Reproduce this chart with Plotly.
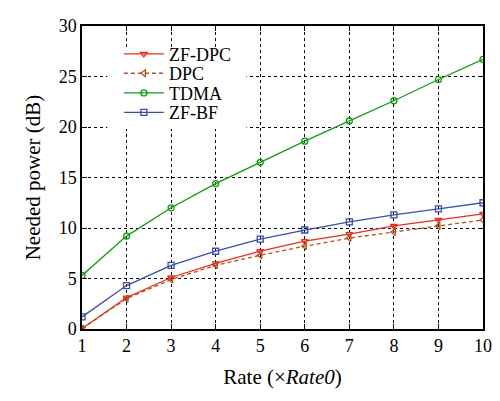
import plotly.graph_objects as go

rate = [1, 2, 3, 4, 5, 6, 7, 8, 9, 10]
zf_dpc = [0.05, 3.1, 5.1, 6.5, 7.7, 8.7, 9.4, 10.2, 10.8, 11.4]
dpc = [0.05, 3.0, 4.9, 6.3, 7.3, 8.2, 9.0, 9.6, 10.2, 10.8]
tdma = [5.3, 9.2, 12.0, 14.4, 16.5, 18.6, 20.6, 22.6, 24.7, 26.7]
zf_bf = [1.2, 4.3, 6.3, 7.7, 8.9, 9.8, 10.6, 11.3, 11.9, 12.5]

font = "Liberation Serif"
tick_fs = 18
title_fs = 21
leg_fs = 18

fig = go.Figure()
series = [
    ("ZF-DPC", zf_dpc, "#ee2a24", "triangle-down-open", "solid", "legend"),
    ("DPC", dpc, "#b5521a", "triangle-left-open", "4px,3px", "legend2"),
    ("TDMA", tdma, "#119911", "circle-open", "solid", "legend3"),
    ("ZF-BF", zf_bf, "#3a4faa", "square-open", "solid", "legend4"),
]
for name, ys, col, sym, dash, leg in series:
    fig.add_trace(go.Scatter(
        x=rate, y=ys, name=name, mode="lines+markers", legend=leg,
        line=dict(color=col, width=1.3, dash=dash),
        marker=dict(symbol=sym, size=6, color=col, line=dict(width=1.3, color=col)),
    ))

axis_common = dict(
    showgrid=True, gridcolor="black", griddash="dot", gridwidth=1,
    showline=True, linecolor="black", linewidth=1.5, mirror="ticks",
    ticks="inside", ticklen=5, tickcolor="black",
    tickfont=dict(family=font, size=tick_fs, color="black"),
    ticklabeloverflow="allow",
    zeroline=False,
)
fig.update_xaxes(range=[1, 10], dtick=1,
                 title=dict(text="Rate (×<i>Rate0</i>)", font=dict(family=font, size=title_fs, color="black"), standoff=14),
                 **axis_common)
fig.update_yaxes(range=[0, 30], dtick=5,
                 title=dict(text="Needed power (dB)", font=dict(family=font, size=title_fs, color="black"), standoff=12),
                 **axis_common)

# white backdrop behind the legend block (legend box background)
fig.add_shape(type="rect", xref="paper", yref="paper",
              x0=0.063, x1=0.41, y0=0.66, y1=0.92,
              fillcolor="white", line=dict(width=0), layer="above")

leg_common = dict(x=0.092, xanchor="left", yanchor="middle", bgcolor="rgba(0,0,0,0)",
                  font=dict(family=font, size=leg_fs, color="black"), itemwidth=40)
fig.update_layout(
    width=492, height=393,
    margin=dict(l=74, r=8, t=9, b=72),
    paper_bgcolor="white", plot_bgcolor="white",
    font=dict(family=font, color="black"),
    legend=dict(y=0.907, **leg_common),
    legend2=dict(y=0.843, **leg_common),
    legend3=dict(y=0.778, **leg_common),
    legend4=dict(y=0.714, **leg_common),
    showlegend=True,
)

fig.write_html("out.html")
